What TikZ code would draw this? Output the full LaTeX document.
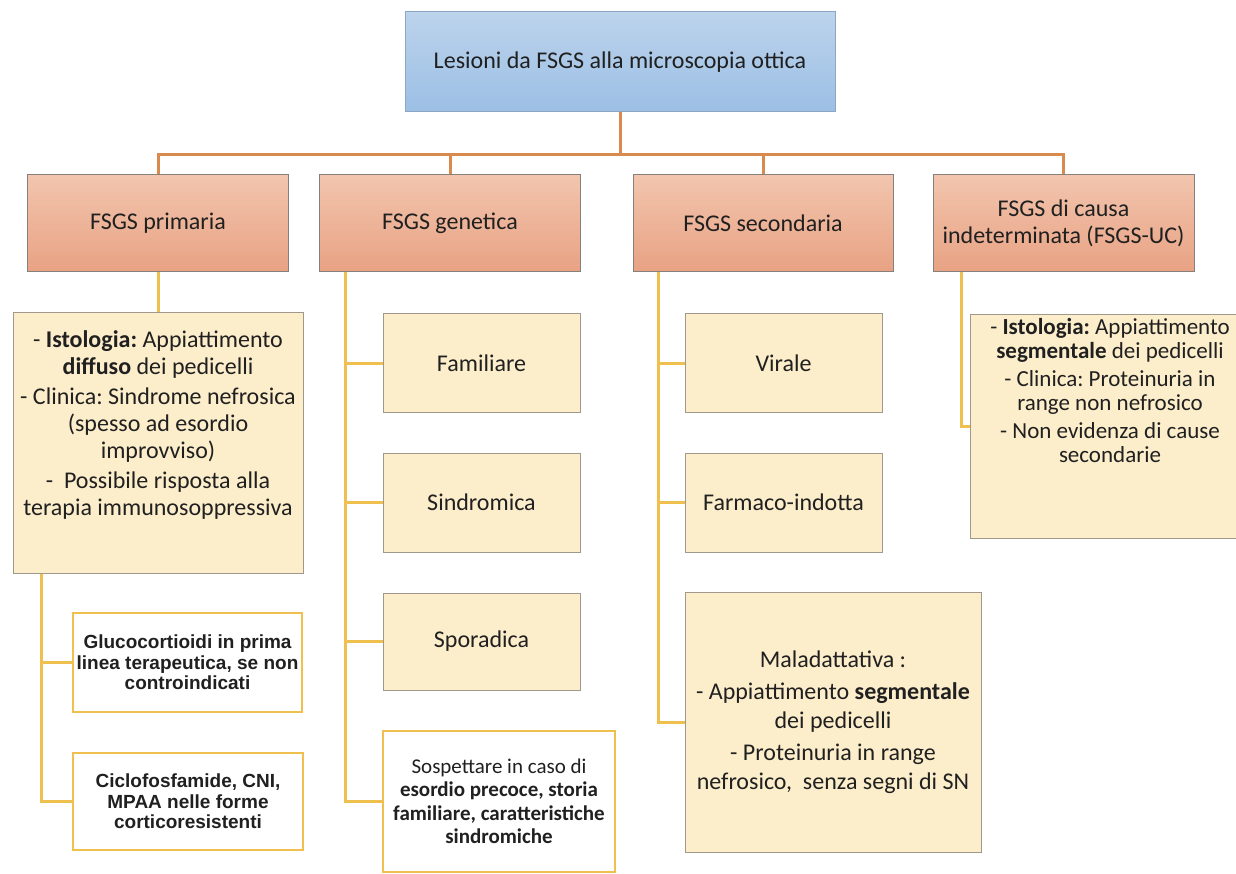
\documentclass[tikz,border=0pt]{standalone}
\usepackage{fontspec}
\setmainfont{Carlito}
\newfontfamily\arialfont{Liberation Sans}
\frenchspacing
\definecolor{topA}{HTML}{BCD3EC}
\definecolor{topB}{HTML}{9CBFE5}
\definecolor{topBorder}{HTML}{8DA6C4}
\definecolor{salA}{HTML}{F2C5AE}
\definecolor{salB}{HTML}{E8A283}
\definecolor{salBorder}{HTML}{86807C}
\definecolor{orng}{HTML}{D88A4F}
\definecolor{gold}{HTML}{EFC04E}
\definecolor{cream}{HTML}{FCEDCB}
\definecolor{creamBorder}{HTML}{9E998A}
\definecolor{txt}{HTML}{202020}
\begin{document}
\begin{tikzpicture}[x=1pt,y=-1pt,
  lvlone/.style={draw=topBorder, line width=1pt, top color=topA, bottom color=topB,
    minimum width=430pt, minimum height=100pt, inner sep=0pt, text=txt,
    font=\fontsize{24}{27}\selectfont},
  lvltwo/.style={draw=salBorder, line width=1pt, top color=salA, bottom color=salB,
    minimum width=261pt, minimum height=97pt, inner sep=0pt, align=center, text=txt,
    font=\fontsize{24}{27}\selectfont},
  creambox/.style={draw=creamBorder, line width=1pt, fill=cream, inner sep=0pt,
    align=center, text=txt, font=\fontsize{24}{27}\selectfont},
  whitebox/.style={draw=gold, line width=2.2pt, fill=white, inner sep=0pt,
    align=center, text=txt},
  boxtext/.style={align=center, inner sep=0pt, text=txt},
  conone/.style={draw=orng, line width=3pt},
  contwo/.style={draw=gold, line width=3pt}
]
\fill[white] (0,0) rectangle (1236,874);
\useasboundingbox (0,0) rectangle (1236,874);

% level 1
\node[lvlone] (top) at (620,62) {Lesioni da FSGS alla microscopia ottica};

% level 2
\node[lvltwo] (P) at (158,223.5) {FSGS primaria};
\node[lvltwo] (G) at (450,223.5) {FSGS genetica};
\node[lvltwo, minimum width=260pt] (S) at (763,223.5) {FSGS secondaria};
\node[lvltwo] (I) at (1063.5,223.5) {FSGS di causa\\indeterminata (FSGS-UC)};

% bus
\coordinate (bus) at (620,155);
\draw[conone] (top.south) -- (bus);
\draw[conone] (P.north) -- (P.north |- bus) -- (I.north |- bus) -- (I.north);
\draw[conone] (G.north) -- (G.north |- bus);
\draw[conone] (S.north) -- (S.north |- bus);

% primaria branch
\node[creambox, minimum width=290pt, minimum height=260pt] (Pd) at (158,443) {};
\node[boxtext, font=\fontsize{24}{27}\selectfont] (Pdt) at (158,425)
  {- \textbf{Istologia:} Appiattimento\\
   \textbf{diffuso} dei pedicelli\\[3pt]
   - Clinica: Sindrome nefrosica\\
   (spesso ad esordio\\
   improvviso)\\[3pt]
   -\ \ Possibile risposta alla\\
   terapia immunosoppressiva};
\node[whitebox, minimum width=229pt, minimum height=99pt,
  font=\arialfont\bfseries\fontsize{19}{20.5}\selectfont] (Gluco) at (187.5,662.5)
  {Glucocortioidi in prima\\linea terapeutica, se non\\controindicati};
\node[whitebox, minimum width=230pt, minimum height=97pt,
  font=\arialfont\bfseries\fontsize{19}{20.5}\selectfont] (Ciclo) at (188,801.5)
  {Ciclofosfamide, CNI,\\MPAA nelle forme\\corticoresistenti};
\draw[contwo] (P.south) -- (Pd.north);
\coordinate (pa) at ([xshift=29pt]Pd.south west);
\draw[contwo] (pa) |- (Ciclo.west);
\draw[contwo] (pa |- Gluco.west) -- (Gluco.west);

% genetica branch
\node[creambox, minimum width=197pt, minimum height=98pt] (Fam) at (481.5,363) {Familiare};
\node[creambox, minimum width=197pt, minimum height=99pt] (Sind) at (481.5,502.5) {Sindromica};
\node[creambox, minimum width=197pt, minimum height=97pt] (Spor) at (481.5,641.5) {Sporadica};
\node[whitebox, minimum width=232pt, minimum height=141pt,
  font=\fontsize{21}{23.5}\selectfont] (Sosp) at (499,801.5)
  {Sospettare in caso di\\\textbf{esordio precoce, storia}\\\textbf{familiare, caratteristiche}\\\textbf{sindromiche}};
\coordinate (ga) at ([xshift=26pt]G.south west);
\draw[contwo] (ga) |- (Sosp.west);
\draw[contwo] (ga |- Fam.west) -- (Fam.west);
\draw[contwo] (ga |- Sind.west) -- (Sind.west);
\draw[contwo] (ga |- Spor.west) -- (Spor.west);

% secondaria branch
\node[creambox, minimum width=197pt, minimum height=98pt] (Vir) at (783.5,363) {Virale};
\node[creambox, minimum width=197pt, minimum height=99pt] (Farm) at (783.5,502.5) {Farmaco-indotta};
\node[creambox, minimum width=296pt, minimum height=260pt,
  font=\fontsize{24}{29}\selectfont] (Malad) at (833,722)
  {Maladattativa :\\[3pt]
   - Appiattimento \textbf{segmentale}\\
   dei pedicelli\\[3pt]
   - Proteinuria in range\\
   nefrosico,\ \ senza segni di SN};
\coordinate (sa) at ([xshift=26pt]S.south west);
\draw[contwo] (sa) |- (Malad.west);
\draw[contwo] (sa |- Vir.west) -- (Vir.west);
\draw[contwo] (sa |- Farm.west) -- (Farm.west);

% indeterminata branch
\node[creambox, minimum width=280pt, minimum height=223pt] (Id) at (1110,426.5) {};
\node[boxtext, font=\fontsize{23}{24}\selectfont] (Idt) at (1110,391)
  {- \textbf{Istologia:} Appiattimento\\
   \textbf{segmentale} dei pedicelli\\[4pt]
   - Clinica: Proteinuria in\\
   range non nefrosico\\[4pt]
   - Non evidenza di cause\\
   secondarie};
\coordinate (ia) at ([xshift=29pt]I.south west);
\draw[contwo] (ia) |- (Id.west);
\end{tikzpicture}
\end{document}
